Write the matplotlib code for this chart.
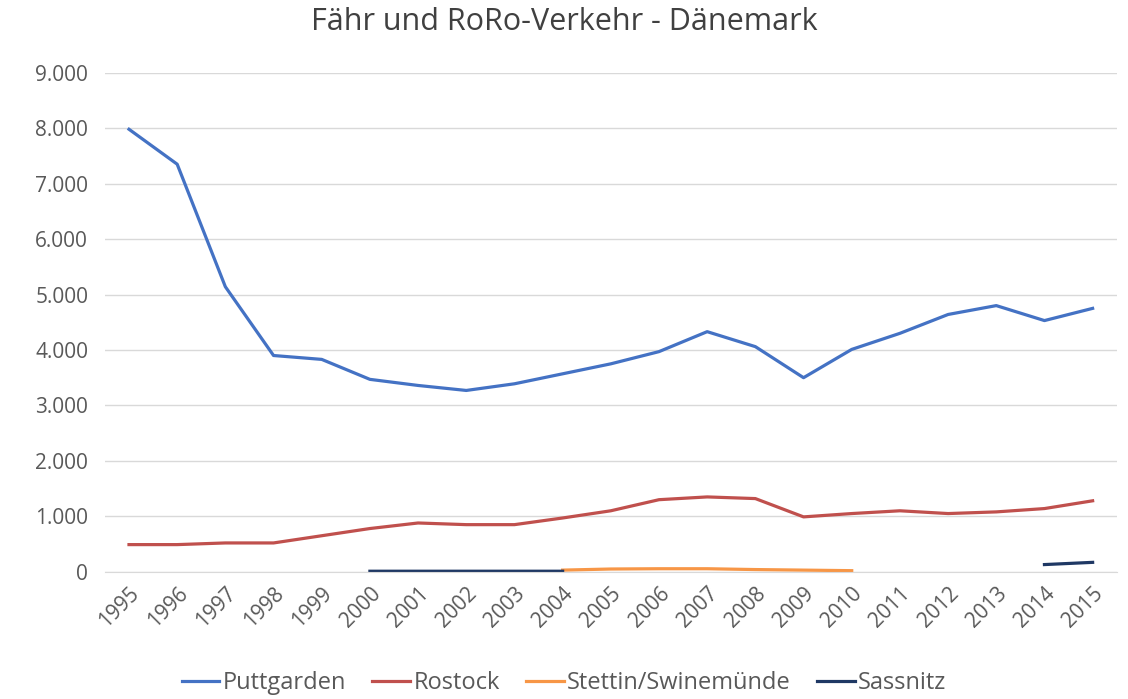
import matplotlib.pyplot as plt
import numpy as np
from matplotlib.ticker import FuncFormatter

plt.rcParams['font.family'] = ['Open Sans', 'DejaVu Sans']

years = [str(y) for y in range(1995, 2016)]
puttgarden = [7980, 7350, 5140, 3900, 3830, 3470, 3360, 3270, 3390, 3570, 3750,
              3970, 4330, 4060, 3500, 4010, 4300, 4640, 4800, 4530, 4750]
rostock = [490, 490, 520, 520, 650, 780, 880, 850, 850, 970, 1100,
           1300, 1350, 1320, 990, 1050, 1100, 1050, 1080, 1140, 1280]
stettin = [None] * 9 + [30, 50, 55, 55, 40, 30, 20] + [None] * 5
sassnitz = [None] * 5 + [10, 10, 10, 10, 10] + [None] * 9 + [130, 170]

def arr(v):
    return np.array([np.nan if x is None else x for x in v], dtype=float)

fig = plt.figure(figsize=(11.28, 6.99), dpi=100)
ax = fig.add_axes([0.093, 0.182, 0.897, 0.714])

x = np.arange(len(years))
ax.plot(x, puttgarden, color='#4472C4', lw=2.3, label='Puttgarden')
ax.plot(x, rostock, color='#C0504D', lw=2.3, label='Rostock')
ax.plot(x, arr(stettin), color='#F79646', lw=2.3, label='Stettin/Swinemünde')
ax.plot(x, arr(sassnitz), color='#1F3864', lw=2.3, label='Sassnitz')

ax.set_xlim(-0.5, len(years) - 0.5)
ax.set_ylim(0, 9000)
ax.set_yticks(np.arange(0, 9001, 1000))
ax.yaxis.set_major_formatter(FuncFormatter(lambda v, p: f'{int(v):,}'.replace(',', '.')))
ax.set_xticks(x)
ax.set_xticklabels(years, rotation=45, ha='right', rotation_mode='anchor')
ax.tick_params(axis='y', length=0, labelsize=15, colors='#595959', pad=12)
ax.tick_params(axis='x', length=0, labelsize=15, colors='#595959', pad=8)
ax.grid(axis='y', color='#D9D9D9', lw=1)
ax.set_axisbelow(True)
for s in ['top', 'right', 'left']:
    ax.spines[s].set_visible(False)
ax.spines['bottom'].set_color('#D9D9D9')

fig.suptitle('Fähr und RoRo-Verkehr - Dänemark', y=0.99, fontsize=22, color='#404040')
fig.legend(loc='lower center', ncol=4, frameon=False, fontsize=17,
           bbox_to_anchor=(0.5, -0.025), handlelength=1.6, handletextpad=0.15,
           columnspacing=1.1, labelcolor='#595959')

fig.savefig('out.png', dpi=100)
